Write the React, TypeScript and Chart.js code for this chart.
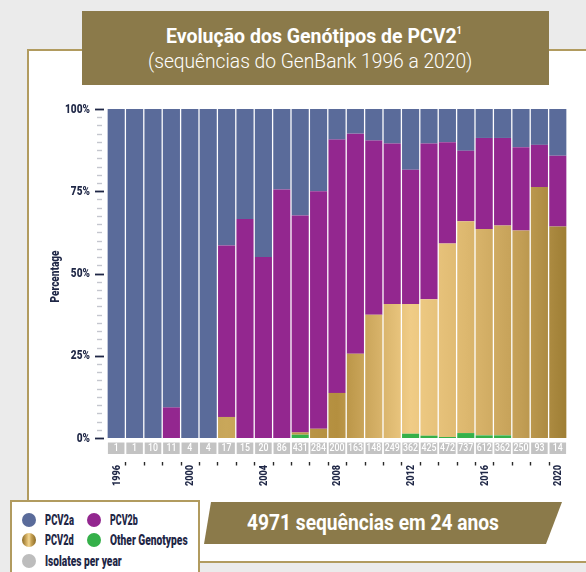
import React, { useEffect, useLayoutEffect, useRef, useState } from "react";
import { Chart, registerables } from "chart.js";

Chart.register(...registerables);

// ---------- data ----------
const years = ["1996","1997","1998","1999","2000","2001","2002","2003","2004","2005","2006","2007","2008","2009","2010","2011","2012","2013","2014","2015","2016","2017","2018","2019","2020"];
const isolatesPerYear = [1,1,10,11,4,4,17,15,20,86,431,284,200,163,148,249,362,425,472,737,612,362,250,93,14];
const otherGenotypes = [0,0,0,0,0,0,0,0,0,0,1.0,0,0,0,0,0,1.3,0.7,0.3,1.5,0.8,0.8,0,0,0];
const pcv2d = [0,0,0,0,0,0,6.4,0,0,0,0.7,2.8,13.7,25.6,37.5,40.7,39.4,41.5,58.8,64.4,62.7,63.8,63.1,76.3,64.3];
const pcv2b = [0,0,0,9.3,0,0,52.1,66.6,55.0,75.5,65.9,72.2,77.0,66.9,52.9,48.8,40.8,47.3,30.8,21.4,27.7,26.6,25.3,12.8,21.5];
const pcv2a = [100,100,100,90.7,100,100,41.5,33.4,45.0,24.5,32.4,25.0,9.3,7.5,9.6,10.5,18.5,10.5,10.1,12.7,8.8,8.8,11.6,10.9,14.2];
const yearLabelEvery = 4;
const yTickStep = 25;
const yMinorStep = 2.5;

// ---------- styles ----------
const NAVY = "#1f2746";
const BLUE = "#5a6b9a";
const PURPLE = "#93278f";
const GREEN = "#35b04a";
const GOLD_BOX = "#8b7a4a";
const BORDER_GOLD = "#b19b5f";
const COUNT_BOX = "#c3c3c3";
const FONT = 'Roboto, "Open Sans", sans-serif';
const GOLD_STOPS: [number, string][] = [
  [0, "#a98a45"],
  [0.26, "#c9a75a"],
  [0.5, "#b48f3f"],
  [0.56, "#caa55a"],
  [0.66, "#f0cc86"],
  [0.78, "#ddb86f"],
  [0.9, "#c29e55"],
  [1, "#9e7e34"],
];

const goldFill = (ctx: any) => {
  const chart = ctx.chart;
  const a = chart.chartArea;
  if (!a) return "#c9a555";
  const g = chart.ctx.createLinearGradient(a.left, 0, a.right, 0);
  GOLD_STOPS.forEach(([o, c]) => g.addColorStop(o, c));
  return g;
};

// draws text squeezed horizontally to a given width
function squeezed(ctx: CanvasRenderingContext2D, text: string, targetRef: number, refText: string) {
  const s = targetRef / ctx.measureText(refText).width;
  ctx.scale(s, 1);
  ctx.fillText(text, 0, 0);
}

const decorPlugin = {
  id: "decor",
  afterDraw(chart: any) {
    const ctx = chart.ctx as CanvasRenderingContext2D;
    const x = chart.scales.x;
    const y = chart.scales.y;
    const a = chart.chartArea;
    ctx.save();
    // y ticks (major + minor)
    for (let v = 0; v <= 100.001; v += yMinorStep) {
      const py = Math.round(y.getPixelForValue(v)) + 0.5;
      const major = Math.abs(v % yTickStep) < 0.001;
      ctx.beginPath();
      if (major) {
        ctx.strokeStyle = NAVY;
        ctx.lineWidth = 1.8;
        ctx.moveTo(a.left - 12, py);
        ctx.lineTo(a.left - 3, py);
      } else {
        ctx.strokeStyle = "#c4c6ce";
        ctx.lineWidth = 1.4;
        ctx.moveTo(a.left - 10, py);
        ctx.lineTo(a.left - 5, py);
      }
      ctx.stroke();
    }
    // y tick labels from the scale's ticks
    ctx.fillStyle = NAVY;
    ctx.font = `900 12.5px ${FONT}`;
    ctx.textAlign = "right";
    ctx.textBaseline = "middle";
    y.ticks.forEach((t: any) => {
      ctx.save();
      ctx.translate(a.left - 17, y.getPixelForValue(t.value) + 0.5);
      squeezed(ctx, `${t.value}%`, 25, "100%");
      ctx.restore();
    });
    // y title
    ctx.save();
    ctx.font = `900 12.5px ${FONT}`;
    ctx.textAlign = "center";
    ctx.translate(26, (a.top + a.bottom) / 2 + 3);
    ctx.rotate(-Math.PI / 2);
    squeezed(ctx, "Percentage", 52, "Percentage");
    ctx.restore();

    // isolates per year boxes
    const n = years.length;
    const step = x.getPixelForValue(1) - x.getPixelForValue(0);
    const w = step * 0.9;
    for (let i = 0; i < n; i++) {
      const cx = x.getPixelForValue(i);
      ctx.fillStyle = COUNT_BOX;
      ctx.fillRect(cx - w / 2, a.bottom + 4.5, w, 11.5);
      ctx.save();
      ctx.fillStyle = "#ffffff";
      ctx.font = `500 10.5px ${FONT}`;
      ctx.textAlign = "center";
      ctx.textBaseline = "middle";
      ctx.translate(cx, a.bottom + 10.8);
      squeezed(ctx, String(isolatesPerYear[i]), 15, "431");
      ctx.restore();
    }
    // small ticks at category boundaries
    ctx.strokeStyle = "#2a2a2a";
    ctx.lineWidth = 1.4;
    for (let i = 0; i < n - 1; i++) {
      const bx = Math.round((x.getPixelForValue(i) + x.getPixelForValue(i + 1)) / 2) + 0.5;
      ctx.beginPath();
      ctx.moveTo(bx, a.bottom + 24);
      ctx.lineTo(bx, a.bottom + 27.5);
      ctx.stroke();
    }
    // year labels (rotated), from the category scale
    ctx.fillStyle = NAVY;
    ctx.font = `900 11.5px ${FONT}`;
    ctx.textAlign = "right";
    ctx.textBaseline = "middle";
    for (let i = 0; i < n; i += yearLabelEvery) {
      ctx.save();
      ctx.translate(x.getPixelForValue(i) + 0.5, a.bottom + 27);
      ctx.rotate(-Math.PI / 2);
      squeezed(ctx, x.getLabelForValue(i), 21, "2000");
      ctx.restore();
    }
    ctx.restore();
  },
};

function ChartCanvas() {
  const ref = useRef<HTMLCanvasElement | null>(null);
  useEffect(() => {
    if (!ref.current) return;
    const common = { barPercentage: 0.93, categoryPercentage: 1, borderWidth: 0 };
    const chart = new Chart(ref.current, {
      type: "bar",
      data: {
        labels: years,
        datasets: [
          { label: "Other Genotypes", data: otherGenotypes, backgroundColor: GREEN, ...common },
          { label: "PCV2d", data: pcv2d, backgroundColor: goldFill, ...common },
          { label: "PCV2b", data: pcv2b, backgroundColor: PURPLE, ...common },
          { label: "PCV2a", data: pcv2a, backgroundColor: BLUE, ...common },
        ],
      },
      options: {
        responsive: false,
        animation: false,
        layout: { padding: { top: 14, right: 13, left: 0, bottom: 0 } },
        plugins: { legend: { display: false }, tooltip: { enabled: false } },
        scales: {
          x: {
            stacked: true,
            grid: { display: false, drawTicks: false },
            border: { display: false },
            ticks: { display: false, autoSkip: false },
            afterFit: (s: any) => { s.height = 57; },
          },
          y: {
            stacked: true,
            min: 0,
            max: 100,
            grid: { display: false, drawTicks: false },
            border: { display: false },
            ticks: { display: false, stepSize: yTickStep },
            afterFit: (s: any) => { s.width = 77; },
          },
        },
      } as any,
      plugins: [decorPlugin],
    });
    return () => chart.destroy();
  }, []);
  return <canvas ref={ref} width={550} height={400} style={{ position: "absolute", left: 30, top: 95, width: 550, height: 400 }} />;
}

// text squeezed horizontally to a target width
function FitText({ width, left, top, style, children }: any) {
  const ref = useRef<HTMLSpanElement | null>(null);
  const [s, setS] = useState(1);
  useLayoutEffect(() => {
    if (ref.current) {
      const w = ref.current.offsetWidth;
      if (w) setS(width / w);
    }
  }, [width]);
  return (
    <span ref={ref} style={{ position: "absolute", left, top, display: "inline-block", whiteSpace: "nowrap", transform: `scaleX(${s})`, transformOrigin: "left center", ...style }}>
      {children}
    </span>
  );
}

const LegendItem = ({ cx, cy, fill, label, textLeft, textWidth }: any) => (
  <>
    <div style={{ position: "absolute", left: cx - 7, top: cy - 7, width: 14, height: 14, borderRadius: "50%", background: fill }} />
    <FitText width={textWidth} left={textLeft} top={cy - 10} style={{ fontWeight: 900, fontSize: 14, lineHeight: "20px", color: NAVY }}>{label}</FitText>
  </>
);

export default function App() {
  return (
    <div style={{ position: "absolute", left: 0, top: 0, width: 586, height: 572, background: "#ebebeb", overflow: "hidden", fontFamily: FONT }}>
      <div style={{ position: "absolute", left: 27, top: 49, width: 620, height: 514, background: "#ffffff", border: `2px solid ${BORDER_GOLD}`, boxSizing: "border-box" }} />
      <div style={{ position: "absolute", left: 82, top: 11, width: 467, height: 74, background: GOLD_BOX, color: "#fff" }}>
        <FitText width={296} left={84} top={12} style={{ fontSize: 21, fontWeight: 700, lineHeight: "26px" }}>
          Evolução dos Genótipos de PCV2<sup style={{ fontSize: 10, verticalAlign: "top", lineHeight: "16px" }}>1</sup>
        </FitText>
        <FitText width={324} left={66} top={37} style={{ fontSize: 21, fontWeight: 300, lineHeight: "26px" }}>
          (sequências do GenBank 1996 a 2020)
        </FitText>
      </div>
      <ChartCanvas />
      <div style={{ position: "absolute", left: 204, top: 502, width: 358, height: 42, background: GOLD_BOX, clipPath: "polygon(7px 0, 358px 0, 342px 42px, 0 42px)", color: "#fff" }}>
        <FitText width={252} left={43} top={7} style={{ fontSize: 22, fontWeight: 700, lineHeight: "28px" }}>
          4971 sequências em 24 anos
        </FitText>
      </div>
      <div style={{ position: "absolute", left: 10, top: 500, width: 190, height: 80, background: "#ffffff", border: `2px solid ${BORDER_GOLD}`, boxSizing: "border-box" }} />
      <LegendItem cx={29} cy={520} fill={BLUE} label="PCV2a" textLeft={45} textWidth={29} />
      <LegendItem cx={94} cy={520} fill={PURPLE} label="PCV2b" textLeft={110} textWidth={28} />
      <LegendItem cx={29} cy={540} fill="linear-gradient(90deg, #8a6a25 0%, #d9b569 35%, #f3d895 50%, #c9a457 65%, #8a6a25 100%)" label="PCV2d" textLeft={45} textWidth={29} />
      <LegendItem cx={94} cy={540} fill={GREEN} label="Other Genotypes" textLeft={110} textWidth={78} />
      <LegendItem cx={29} cy={561} fill="#bdbdbd" label="Isolates per year" textLeft={45} textWidth={77} />
    </div>
  );
}
